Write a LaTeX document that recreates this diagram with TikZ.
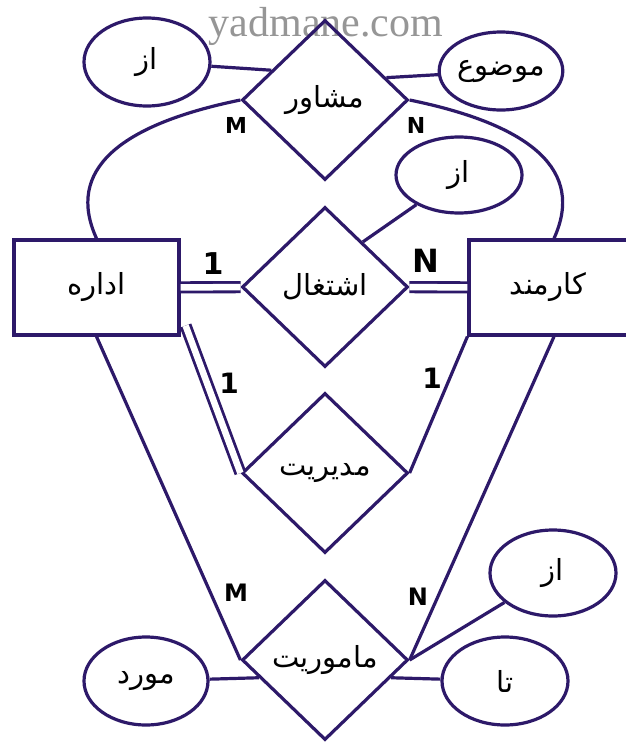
\documentclass[tikz,border=0pt]{standalone}
\usepackage{fontspec}
\usetikzlibrary{shapes.geometric,calc}
\TeXXeTstate=1
\newfontfamily\fafont[Script=Arabic]{DejaVu Sans}
\newfontfamily\labfont{DejaVu Sans}
\newfontfamily\wmfont{Liberation Serif}
\newcommand{\fatxt}[1]{\beginR #1\endR}
\definecolor{ink}{RGB}{45,25,105}
\definecolor{wmgray}{RGB}{150,150,150}
\tikzset{
  conn/.style={draw=ink,line width=3.2pt},
  dbl/.style={draw=ink,line width=2.8pt,double=white,double distance=6.5pt},
  relbox/.style={diamond,draw=ink,line width=3.2pt,minimum width=166pt,minimum height=160pt,inner sep=0pt,
    font=\fafont\fontsize{29}{32}\selectfont,text=black},
  entbox/.style={rectangle,draw=ink,line width=3.2pt,minimum height=95pt,inner sep=0pt,
    font=\fafont\fontsize{29}{32}\selectfont,text=black},
  attr/.style={ellipse,draw=ink,line width=3.2pt,inner sep=0pt,
    font=\fafont\fontsize{29}{32}\selectfont,text=black},
  card/.style={font=\labfont\bfseries\fontsize{#1}{#1}\selectfont,text=black,inner sep=0pt},
}
\begin{document}
\begin{tikzpicture}[x=1pt,y=-1pt]
\useasboundingbox (0,0) rectangle (626,742);
\fill[white] (0,0) rectangle (626,742);
% watermark
\node[font=\wmfont\fontsize{42}{42}\selectfont,text=wmgray,inner sep=0pt] (wm) at (326,26) {yadmane.com};
% relationships
\node[relbox] (d1) at (325,100) {\fatxt{مشاور}};
\node[relbox] (d2) at (325,287) {\fatxt{اشتغال}};
\node[relbox] (d3) at (325,473) {\raisebox{-6pt}{\fatxt{مدیریت}}};
\node[relbox] (d4) at (325,660) {\fatxt{ماموریت}};
% entities
\node[entbox,minimum width=165pt] (r1) at (96.5,287.5) {\fatxt{اداره}};
\node[entbox,minimum width=170pt] (r2) at (554,287.5) {\hspace*{-12pt}\fatxt{کارمند}};
% attributes
\node[attr,minimum width=126pt,minimum height=88pt] (e1) at (147,62) {\fatxt{از}};
\node[attr,minimum width=118pt,minimum height=78pt] (e2) at (501,71) {\fatxt{موضوع}};
\node[attr,minimum width=126pt,minimum height=76pt] (e3) at (459,175) {\fatxt{از}};
\node[attr,minimum width=124pt,minimum height=88pt] (e4) at (146,681) {\fatxt{مورد}};
\node[attr,minimum width=126pt,minimum height=86pt] (e5) at (553,573) {\fatxt{از}};
\node[attr,minimum width=126pt,minimum height=88pt] (e6) at (505,681) {\fatxt{تا}};
% attribute links
\draw[conn] (e1) -- (d1.151);
\draw[conn] (e2) -- (d1.20);
\draw[conn] (e3) -- (d2.50);
\draw[conn] (e4) -- (d4.195);
\draw[conn] (e5) -- (d4.east);
\draw[conn] (e6) -- (d4.345);
% relationship links
\draw[conn] (d1.west) .. controls +(-122,25) and +(-31,-68) .. (r1.north);
\draw[conn] (d1.east) .. controls +(122,25) and +(31,-68) .. (r2.north);
\draw[dbl] (r1) -- (d2);
\draw[dbl] (d2) -- (r2);
\coordinate (r1c) at ($(r1.south east)+(5,-11)$);
\draw[dbl] (r1c) -- (d3.west);
\draw[conn] (r2.south west) -- (d3.east);
\draw[conn] (r1.south) -- (d4.west);
\draw[conn] (r2.south) -- (d4.east);
% cardinalities
\node[card=22] (m1) at (236,125) {M};
\node[card=22] (n1) at (416,125) {N};
\node[card=30] (o1) at (213,264) {1};
\node[card=32] (n2) at (426,261) {N};
\node[card=28] (o2) at (229,383) {1};
\node[card=28] (o3) at (432,378) {1};
\node[card=24] (m2) at (236,593) {M};
\node[card=24] (n3) at (418,597) {N};
\end{tikzpicture}
\end{document}
